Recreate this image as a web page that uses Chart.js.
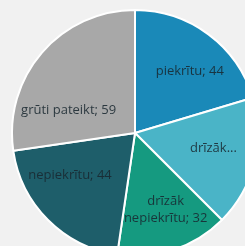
<!DOCTYPE html>
<html>
<head>
<meta charset="utf-8">
<script src="https://cdn.jsdelivr.net/npm/chart.js@4"></script>
<style>
  html, body { margin: 0; padding: 0; background: #f1f1f1; overflow: hidden; width: 245px; height: 246px; }
  #wrap { position: absolute; left: 11px; top: 9px; width: 248px; height: 248px; }
</style>
</head>
<body>
<div id="wrap"><canvas id="pie"></canvas></div>
<script>
// categories and values
var categories = ["piekrītu", "drīzāk piekrītu", "drīzāk nepiekrītu", "nepiekrītu", "grūti pateikt"];
var values = [44, 37, 32, 44, 59];
var sliceColors = ["#1a89b8", "#4ab4c7", "#159a80", "#1e5e6a", "#a8a8a8"];
// text shown on each slice (the second one is cut short in the original)
var sliceText = [
  ["piekrītu; 44"],
  ["drīzāk..."],
  ["drīzāk", "nepiekrītu; 32"],
  ["nepiekrītu; 44"],
  ["grūti pateikt; 59"]
];

// best-fit style placement: angle shift (deg) from mid-angle and radius fraction
var labelShift = [5, -3, -3.5, 12, -22];
var labelRadius = [0.67, 0.65, 0.67, 0.63, 0.57];

var sliceLabels = {
  id: "sliceLabels",
  afterDatasetsDraw: function (chart) {
    var ctx = chart.ctx;
    var arcs = chart.getDatasetMeta(0).data;
    ctx.save();
    ctx.font = "13px 'Open Sans', sans-serif";
    ctx.fillStyle = "rgba(25,40,48,0.88)";
    ctx.textAlign = "center";
    ctx.textBaseline = "middle";
    arcs.forEach(function (arc, i) {
      var p = arc.getProps(["x", "y", "startAngle", "endAngle", "outerRadius"], true);
      var mid = (p.startAngle + p.endAngle) / 2 + labelShift[i] * Math.PI / 180;
      var r = p.outerRadius * labelRadius[i];
      var cx = p.x + Math.cos(mid) * r;
      var cy = p.y + Math.sin(mid) * r;
      var lines = sliceText[i];
      var lh = 17;
      lines.forEach(function (t, k) {
        ctx.fillText(t, cx, cy + (k - (lines.length - 1) / 2) * lh);
      });
    });
    ctx.restore();
  }
};

new Chart(document.getElementById("pie"), {
  type: "pie",
  data: {
    labels: categories,
    datasets: [{
      data: values,
      backgroundColor: sliceColors,
      borderColor: "#ffffff",
      borderWidth: 2
    }]
  },
  options: {
    responsive: true,
    maintainAspectRatio: false,
    animation: false,
    layout: { padding: 0 },
    plugins: {
      legend: { display: false },
      tooltip: { enabled: false }
    }
  },
  plugins: [sliceLabels]
});
</script>
</body>
</html>
